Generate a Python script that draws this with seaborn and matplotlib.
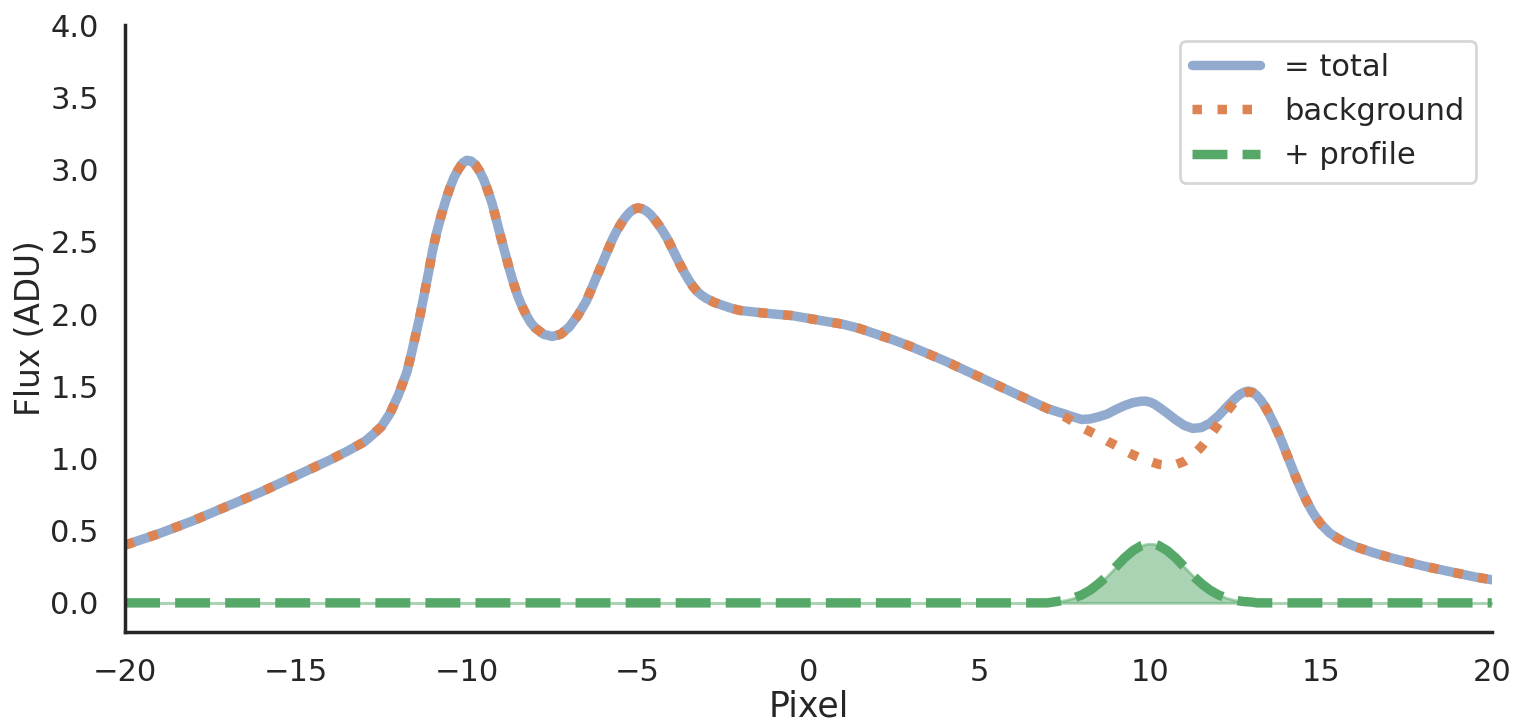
import numpy as np
import pandas as pd
import seaborn as sns
import matplotlib
matplotlib.use("Agg")
import matplotlib.pyplot as plt

# pixel positions along the trace
pixel = [-20, -19, -18, -17, -16, -15, -14, -13.5, -13, -12.75, -12.5, -12.25,
         -12, -11.875, -11.75, -11.625, -11.5, -11.375, -11.25, -11.125, -11,
         -10.875, -10.75, -10.625, -10.5, -10.375, -10.25, -10.125, -10,
         -9.875, -9.75, -9.625, -9.5, -9.375, -9.25, -9.125, -9, -8.875,
         -8.75, -8.625, -8.5, -8.375, -8.25, -8.125, -8, -7.75, -7.5, -7.25,
         -7, -6.875, -6.75, -6.625, -6.5, -6.375, -6.25, -6.125, -6, -5.875,
         -5.75, -5.625, -5.5, -5.375, -5.25, -5.125, -5, -4.875, -4.75,
         -4.625, -4.5, -4.375, -4.25, -4.125, -4, -3.875, -3.75, -3.625,
         -3.5, -3.375, -3.25, -3.125, -3, -2.75, -2.5, -2.25, -2, -1.5, -1,
         -0.5, 0, 0.5, 1, 1.5, 2, 2.5, 3, 3.5, 4, 4.5, 5, 5.5, 6, 6.5, 7,
         7.5, 7.75, 8, 8.25, 8.5, 8.75, 9, 9.25, 9.5, 9.75, 9.875, 10, 10.125,
         10.25, 10.5, 10.75, 11, 11.25, 11.5, 11.75, 12, 12.25, 12.5, 12.625,
         12.75, 12.875, 13, 13.125, 13.25, 13.375, 13.5, 13.625, 13.75,
         13.875, 14, 14.125, 14.25, 14.375, 14.5, 14.625, 14.75, 14.875, 15,
         15.25, 15.5, 15.75, 16, 16.5, 17, 17.5, 18, 18.5, 19, 19.5, 20]

# background flux (ADU)
background = [0.40, 0.48, 0.57, 0.67, 0.77, 0.88, 0.99, 1.05, 1.115, 1.165,
              1.22, 1.31, 1.44, 1.52, 1.60, 1.72, 1.85, 1.98, 2.13, 2.28, 2.44,
              2.57, 2.68, 2.78, 2.87, 2.945, 3.00, 3.045, 3.065, 3.06, 3.035,
              2.99, 2.93, 2.85, 2.76, 2.645, 2.53, 2.42, 2.31, 2.21, 2.12, 2.05,
              1.99, 1.94, 1.905, 1.86, 1.845, 1.86, 1.91, 1.95, 1.99, 2.04,
              2.09, 2.16, 2.23, 2.30, 2.37, 2.44, 2.51, 2.57, 2.62, 2.665, 2.70,
              2.725, 2.735, 2.73, 2.715, 2.69, 2.655, 2.615, 2.57, 2.52, 2.46,
              2.40, 2.34, 2.285, 2.235, 2.19, 2.155, 2.13, 2.11, 2.08, 2.06,
              2.04, 2.025, 2.012, 2.00, 1.99, 1.97, 1.95, 1.93, 1.90, 1.86,
              1.82, 1.775, 1.725, 1.675, 1.62, 1.565, 1.51, 1.455, 1.40, 1.345,
              1.29, 1.255, 1.215, 1.185, 1.155, 1.12, 1.09, 1.055, 1.025, 1.00,
              0.99, 0.98, 0.97, 0.96, 0.952, 0.957, 0.98, 1.02, 1.08, 1.155,
              1.24, 1.325, 1.40, 1.43, 1.45, 1.46, 1.455, 1.435, 1.40, 1.355,
              1.30, 1.24, 1.175, 1.105, 1.03, 0.955, 0.88, 0.81, 0.745, 0.685,
              0.63, 0.585, 0.545, 0.485, 0.445, 0.415, 0.39, 0.35, 0.315, 0.285,
              0.255, 0.23, 0.205, 0.18, 0.16]

# source profile (ADU), zero outside these pixels
profile_pixel = [7.5, 7.75, 8, 8.25, 8.5, 8.75, 9, 9.25, 9.5, 9.75, 9.875, 10,
                 10.125, 10.25, 10.5, 10.75, 11, 11.25, 11.5, 11.75, 12, 12.25,
                 12.5, 12.625, 12.75, 12.875, 13]
profile_flux = [0.018, 0.033, 0.055, 0.089, 0.134, 0.188, 0.249, 0.311, 0.362,
                0.397, 0.407, 0.41, 0.407, 0.397, 0.362, 0.311, 0.249, 0.188,
                0.134, 0.089, 0.055, 0.033, 0.018, 0.013, 0.009, 0.007, 0.005]

df = pd.DataFrame({"pixel": pixel, "background": background})
prof = pd.DataFrame({"pixel": profile_pixel, "profile": profile_flux})
df = df.merge(prof, on="pixel", how="left").fillna({"profile": 0.0})
df["total"] = df["background"] + df["profile"]

sns.set_theme(context="notebook", style="white")
palette = sns.color_palette("deep")

fig, ax = plt.subplots(figsize=(7.58, 3.61), dpi=200)
fig.subplots_adjust(left=0.0825, right=0.984, top=0.965, bottom=0.125)

sns.lineplot(data=df, x="pixel", y="total", ax=ax, color=palette[0], alpha=0.6,
             lw=3.4, label="= total", solid_capstyle="round")
sns.lineplot(data=df, x="pixel", y="background", ax=ax, color=palette[1],
             lw=3.4, linestyle=":", label="background")
ax.fill_between(df["pixel"], df["profile"], color=palette[2], alpha=0.5, lw=1)
sns.lineplot(data=df, x="pixel", y="profile", ax=ax, color=palette[2],
             lw=3.4, linestyle="--", label="+ profile")

ax.set_xlim(-20, 20)
ax.set_ylim(-0.2, 4.0)
ax.set_yticks(np.arange(0, 4.01, 0.5))
ax.set_xticks(np.arange(-20, 21, 5))
ax.set_xlabel("Pixel", fontsize=12.5, labelpad=1)
ax.set_ylabel("Flux (ADU)", fontsize=11.8, labelpad=1)
sns.despine(ax=ax)
ax.legend(loc="upper right", handlelength=2.2, fontsize=11)

fig.savefig("out.png", dpi=200)
